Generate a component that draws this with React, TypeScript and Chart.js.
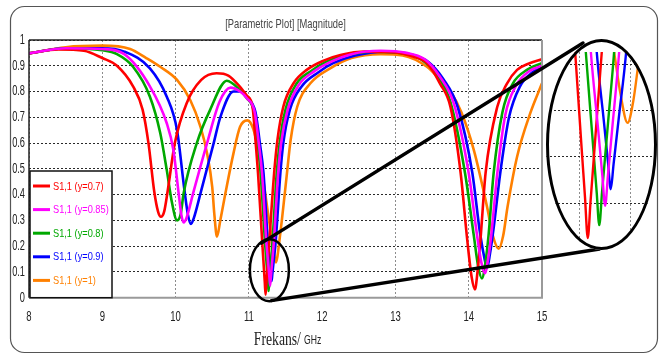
import React, { useEffect, useRef } from "react";
import { Chart, registerables } from "chart.js";
Chart.register(...registerables);

// ---------- data (frequency in GHz, |S11| magnitude) ----------
const X_MIN = 8;
const X_MAX = 15;
const Y_MIN = 0;
const Y_MAX = 1;
const TITLE = "[Parametric Plot] [Magnitude]";
const X_TITLE_MAIN = "Frekans/";
const X_TITLE_UNIT = "GHz";

const LABELS = ["S1,1 (y=0.7)", "S1,1 (y=0.85)", "S1,1 (y=0.8)", "S1,1 (y=0.9)", "S1,1 (y=1)"];
const COLORS = ["#ff0000", "#ff00ff", "#00a800", "#0000ff", "#ff8000"];

const F_RED = [8.0, 8.4, 8.75, 9.0, 9.2, 9.42, 9.55, 9.63, 9.71, 9.76, 9.80, 9.845, 9.89, 9.99, 10.15, 10.35, 10.56, 10.72, 10.88, 10.97, 11.05, 11.09, 11.125, 11.183, 11.206, 11.218, 11.228, 11.238, 11.256, 11.278, 11.345, 11.39, 11.47, 11.61, 11.79, 12.02, 12.25, 12.6, 13.0, 13.25, 13.43, 13.61, 13.75, 13.89, 13.98, 14.04, 14.085, 14.12, 14.16, 14.23, 14.39, 14.52, 14.66, 14.83, 15.0];
const S_RED = [0.948, 0.963, 0.958, 0.93, 0.90, 0.82, 0.73, 0.60, 0.41, 0.335, 0.314, 0.335, 0.41, 0.60, 0.754, 0.845, 0.871, 0.862, 0.818, 0.785, 0.741, 0.612, 0.483, 0.214, 0.11, 0.057, 0.012, 0.052, 0.125, 0.214, 0.483, 0.612, 0.741, 0.832, 0.884, 0.92, 0.942, 0.955, 0.952, 0.935, 0.91, 0.83, 0.741, 0.484, 0.224, 0.08, 0.032, 0.10, 0.224, 0.483, 0.741, 0.83, 0.884, 0.91, 0.925];

const F_MAGENTA = [8.0, 8.5, 9.0, 9.3, 9.65, 9.88, 9.97, 10.04, 10.08, 10.11, 10.15, 10.24, 10.43, 10.6, 10.75, 10.88, 10.97, 11.08, 11.135, 11.18, 11.239, 11.265, 11.28, 11.29, 11.30, 11.315, 11.34, 11.40, 11.44, 11.53, 11.68, 11.9, 12.1, 12.4, 12.8, 13.15, 13.4, 13.6, 13.8, 14.0, 14.11, 14.17, 14.22, 14.27, 14.31, 14.39, 14.5, 14.65, 14.83, 15.0];
const S_MAGENTA = [0.948, 0.968, 0.965, 0.945, 0.82, 0.677, 0.573, 0.41, 0.32, 0.292, 0.31, 0.406, 0.60, 0.76, 0.815, 0.80, 0.775, 0.72, 0.60, 0.483, 0.214, 0.13, 0.08, 0.047, 0.08, 0.13, 0.214, 0.483, 0.60, 0.73, 0.825, 0.88, 0.913, 0.945, 0.958, 0.95, 0.925, 0.86, 0.75, 0.483, 0.25, 0.14, 0.095, 0.16, 0.25, 0.483, 0.71, 0.825, 0.88, 0.90];

const F_GREEN = [8.0, 8.5, 9.0, 9.2, 9.42, 9.65, 9.79, 9.88, 9.95, 10.02, 10.07, 10.11, 10.29, 10.47, 10.7, 10.88, 10.97, 11.07, 11.12, 11.16, 11.221, 11.245, 11.26, 11.269, 11.279, 11.30, 11.322, 11.38, 11.42, 11.5, 11.65, 11.85, 12.05, 12.3, 12.7, 13.1, 13.35, 13.55, 13.75, 13.95, 14.07, 14.13, 14.18, 14.23, 14.27, 14.34, 14.46, 14.6, 14.8, 15.0];
const S_GREEN = [0.948, 0.968, 0.96, 0.945, 0.896, 0.78, 0.64, 0.495, 0.37, 0.30, 0.325, 0.405, 0.60, 0.728, 0.842, 0.805, 0.775, 0.72, 0.60, 0.483, 0.214, 0.12, 0.061, 0.026, 0.062, 0.136, 0.214, 0.483, 0.60, 0.73, 0.83, 0.88, 0.915, 0.94, 0.955, 0.948, 0.925, 0.87, 0.76, 0.483, 0.24, 0.12, 0.075, 0.14, 0.24, 0.483, 0.72, 0.83, 0.885, 0.91];

const F_BLUE = [8.0, 8.5, 9.0, 9.3, 9.65, 9.88, 10.02, 10.12, 10.17, 10.21, 10.25, 10.34, 10.52, 10.61, 10.79, 10.9, 10.98, 11.09, 11.15, 11.2, 11.26, 11.285, 11.30, 11.31, 11.32, 11.34, 11.365, 11.43, 11.47, 11.56, 11.72, 11.95, 12.15, 12.45, 12.85, 13.2, 13.45, 13.65, 13.85, 14.05, 14.15, 14.21, 14.25, 14.29, 14.34, 14.43, 14.55, 14.7, 14.87, 15.0];
const S_BLUE = [0.948, 0.968, 0.968, 0.955, 0.89, 0.78, 0.65, 0.42, 0.32, 0.286, 0.31, 0.405, 0.60, 0.70, 0.80, 0.80, 0.775, 0.72, 0.60, 0.483, 0.214, 0.14, 0.095, 0.065, 0.092, 0.146, 0.214, 0.483, 0.60, 0.73, 0.82, 0.875, 0.91, 0.94, 0.955, 0.945, 0.915, 0.85, 0.74, 0.483, 0.26, 0.16, 0.115, 0.17, 0.27, 0.483, 0.70, 0.82, 0.875, 0.895];

const F_ORANGE = [8.0, 8.5, 9.0, 9.38, 9.6, 9.79, 10.02, 10.2, 10.34, 10.43, 10.5, 10.53, 10.565, 10.61, 10.68, 10.79, 10.88, 10.98, 11.06, 11.13, 11.2, 11.27, 11.322, 11.345, 11.37, 11.39, 11.408, 11.45, 11.52, 11.57, 11.66, 11.84, 12.11, 12.4, 12.8, 13.1, 13.43, 13.61, 13.75, 13.9, 14.07, 14.25, 14.33, 14.41, 14.47, 14.53, 14.66, 14.84, 15.0];
const S_ORANGE = [0.948, 0.972, 0.978, 0.965, 0.93, 0.896, 0.845, 0.767, 0.663, 0.56, 0.43, 0.32, 0.237, 0.30, 0.405, 0.56, 0.663, 0.688, 0.655, 0.57, 0.45, 0.31, 0.214, 0.168, 0.137, 0.16, 0.2, 0.3, 0.483, 0.612, 0.741, 0.832, 0.89, 0.93, 0.945, 0.94, 0.896, 0.845, 0.80, 0.72, 0.573, 0.353, 0.24, 0.19, 0.24, 0.353, 0.547, 0.716, 0.832];

// zoom inset ranges
const INSET_X = [11.079, 11.475];
const INSET_Y = [-0.001, 0.214];
const INSET_X_GRID = [11.2, 11.38];
const INSET_Y_GRID = [0.05, 0.1, 0.15, 0.2];
const ZOOM_CENTER = [11.28, 0.107];

const SERIES_F = [F_RED, F_MAGENTA, F_GREEN, F_BLUE, F_ORANGE];
const SERIES_S = [S_RED, S_MAGENTA, S_GREEN, S_BLUE, S_ORANGE];
const DRAW_ORDER = [1, 0, 2, 3, 4];

// inset ellipse box (page pixels)
const INSET_BOX = { left: 546, top: 39, w: 111, h: 211, canvasTop: 13 };

function makeDatasets(width: number) {
  return LABELS.map((label, i) => ({
    label,
    data: SERIES_F[i].map((f, k) => ({ x: f, y: SERIES_S[i][k] })),
    borderColor: COLORS[i],
    backgroundColor: COLORS[i],
    borderWidth: width,
    pointRadius: 0,
    fill: false,
    cubicInterpolationMode: "monotone" as const,
    capBezierPoints: false,
    order: DRAW_ORDER[i],
  }));
}

function sText(ctx: CanvasRenderingContext2D, text: string, x: number, y: number, font: string, color: string, align: CanvasTextAlign, base: CanvasTextBaseline, sx: number) {
  ctx.save();
  ctx.translate(x, y);
  ctx.scale(sx, 1);
  ctx.font = font;
  ctx.fillStyle = color;
  ctx.textAlign = align;
  ctx.textBaseline = base;
  ctx.fillText(text, 0, 0);
  ctx.restore();
}

function fmt(v: number) {
  return String(Number(v.toFixed(2)));
}

const decor = {
  id: "decor",
  beforeDraw(chart: any) {
    const ctx = chart.ctx as CanvasRenderingContext2D;
    ctx.save();
    ctx.fillStyle = "#ffffff";
    ctx.fillRect(0, 0, chart.width, chart.height);
    const x = 10.5, y = 6.5, w = 647, h = 346, r = 14;
    ctx.beginPath();
    ctx.moveTo(x + r, y);
    ctx.lineTo(x + w - r, y);
    ctx.arcTo(x + w, y, x + w, y + r, r);
    ctx.lineTo(x + w, y + h - r);
    ctx.arcTo(x + w, y + h, x + w - r, y + h, r);
    ctx.lineTo(x + r, y + h);
    ctx.arcTo(x, y + h, x, y + h - r, r);
    ctx.lineTo(x, y + r);
    ctx.arcTo(x, y, x + r, y, r);
    ctx.closePath();
    ctx.strokeStyle = "#555";
    ctx.lineWidth = 1.2;
    ctx.stroke();
    ctx.restore();
  },
  afterDatasetsDraw(chart: any) {
    const ctx = chart.ctx as CanvasRenderingContext2D;
    const a = chart.chartArea;
    const xs = chart.scales.x;
    const ys = chart.scales.y;
    ctx.save();
    // plot frame: top dark, right / bottom grey, left dark
    ctx.strokeStyle = "#222";
    ctx.lineWidth = 1.5;
    ctx.beginPath();
    ctx.moveTo(a.left, a.top);
    ctx.lineTo(a.right, a.top);
    ctx.moveTo(a.left, a.top);
    ctx.lineTo(a.left, a.bottom);
    ctx.stroke();
    ctx.strokeStyle = "#9a9a9a";
    ctx.lineWidth = 2;
    ctx.beginPath();
    ctx.moveTo(a.right, a.top);
    ctx.lineTo(a.right, a.bottom);
    ctx.moveTo(a.left, a.bottom);
    ctx.lineTo(a.right + 1, a.bottom);
    ctx.stroke();

    // legend box
    const lx = a.left + 1, ly = 171, lw = 82, lh = a.bottom - 171;
    ctx.fillStyle = "#fff";
    ctx.fillRect(lx, ly, lw, lh);
    ctx.strokeStyle = "#111";
    ctx.lineWidth = 1.5;
    ctx.strokeRect(lx, ly, lw, lh);
    LABELS.forEach((lab, i) => {
      const cy = 186 + i * 23.6;
      ctx.strokeStyle = COLORS[i];
      ctx.lineWidth = 3;
      ctx.beginPath();
      ctx.moveTo(lx + 3, cy);
      ctx.lineTo(lx + 20, cy);
      ctx.stroke();
      sText(ctx, lab, lx + 23, cy + 0.5, "11px 'Liberation Sans', Arial, sans-serif", COLORS[i], "left", "middle", 0.84);
    });

    // zoom marker ellipse + callout lines
    const cx = xs.getPixelForValue(ZOOM_CENTER[0]);
    const cy = ys.getPixelForValue(ZOOM_CENTER[1]);
    ctx.strokeStyle = "#000";
    ctx.lineWidth = 2.5;
    ctx.beginPath();
    ctx.ellipse(cx, cy, 19.5, 31, 0, 0, Math.PI * 2);
    ctx.stroke();
    const ecx = INSET_BOX.left + INSET_BOX.w / 2;
    const ecy = INSET_BOX.top + INSET_BOX.h / 2;
    ctx.lineWidth = 3.5;
    ctx.lineCap = "round";
    ctx.beginPath();
    ctx.moveTo(cx - 8, cy - 27);
    ctx.lineTo(ecx - 18.5, ecy - 101.5);
    ctx.stroke();
    ctx.beginPath();
    ctx.moveTo(cx + 2, cy + 30.5);
    ctx.lineTo(ecx - 2, ecy + 104.5);
    ctx.stroke();
    ctx.restore();
  },
  afterDraw(chart: any) {
    const ctx = chart.ctx as CanvasRenderingContext2D;
    const a = chart.chartArea;
    const xs = chart.scales.x;
    const ys = chart.scales.y;
    const tickFont = "14px 'Liberation Sans', Arial, sans-serif";
    ys.ticks.forEach((t: any) => {
      sText(ctx, fmt(t.value), a.left - 4, ys.getPixelForValue(t.value), tickFont, "#222", "right", "middle", 0.66);
    });
    xs.ticks.forEach((t: any) => {
      sText(ctx, fmt(t.value), xs.getPixelForValue(t.value), a.bottom + 19, tickFont, "#222", "center", "middle", 0.68);
    });
    // title
    sText(ctx, TITLE, (a.left + a.right) / 2, 24, "13px 'Liberation Sans', Arial, sans-serif", "#444", "center", "middle", 0.72);
    // x axis title
    ctx.save();
    const s = 0.72;
    ctx.font = "19px 'Liberation Serif', 'Times New Roman', serif";
    const w1 = ctx.measureText(X_TITLE_MAIN).width * s;
    ctx.font = "12px 'Liberation Sans', Arial, sans-serif";
    const w2 = ctx.measureText(X_TITLE_UNIT).width * s;
    ctx.restore();
    const total = w1 + 3 + w2;
    const start = (a.left + a.right) / 2 + 2 - total / 2;
    sText(ctx, X_TITLE_MAIN, start, 345, "19px 'Liberation Serif', 'Times New Roman', serif", "#222", "left", "alphabetic", s);
    sText(ctx, X_TITLE_UNIT, start + w1 + 3, 344, "12px 'Liberation Sans', Arial, sans-serif", "#222", "left", "alphabetic", s);
  },
};

export default function App() {
  const mainRef = useRef<HTMLCanvasElement>(null);
  const insetRef = useRef<HTMLCanvasElement>(null);

  useEffect(() => {
    const main = new Chart(mainRef.current as HTMLCanvasElement, {
      type: "line",
      data: { datasets: makeDatasets(2.6) as any },
      options: {
        responsive: false,
        animation: false,
        devicePixelRatio: 1,
        layout: { padding: { left: 29, top: 40, right: 118, bottom: 58.3 } },
        plugins: { legend: { display: false }, tooltip: { enabled: false }, title: { display: false } },
        scales: {
          x: {
            type: "linear",
            min: X_MIN,
            max: X_MAX,
            ticks: { display: false, stepSize: 1 },
            grid: { color: "#8c8c8c", lineWidth: 1, drawTicks: false },
            border: { display: false, dash: [2, 2] } as any,
          },
          y: {
            type: "linear",
            min: Y_MIN,
            max: Y_MAX,
            ticks: { display: false, stepSize: 0.1 },
            grid: { color: "#2a2a2a", lineWidth: 1, drawTicks: false },
            border: { display: false, dash: [2, 2] } as any,
          },
        },
      },
      plugins: [decor as any],
    });

    const inset = new Chart(insetRef.current as HTMLCanvasElement, {
      type: "line",
      data: { datasets: makeDatasets(2.4) as any },
      options: {
        responsive: false,
        animation: false,
        devicePixelRatio: 1,
        layout: { padding: 0 },
        plugins: { legend: { display: false }, tooltip: { enabled: false } },
        scales: {
          x: {
            type: "linear",
            min: INSET_X[0],
            max: INSET_X[1],
            ticks: { display: false },
            afterBuildTicks: (sc: any) => { sc.ticks = INSET_X_GRID.map((v) => ({ value: v })); },
            grid: { color: "#8c8c8c", lineWidth: 1, drawTicks: false },
            border: { display: false, dash: [2, 2] } as any,
          },
          y: {
            type: "linear",
            min: INSET_Y[0],
            max: INSET_Y[1],
            ticks: { display: false },
            afterBuildTicks: (sc: any) => { sc.ticks = INSET_Y_GRID.map((v) => ({ value: v })); },
            grid: { color: "#2a2a2a", lineWidth: 1, drawTicks: false },
            border: { display: false, dash: [2, 2] } as any,
          },
        },
      },
    });
    return () => {
      main.destroy();
      inset.destroy();
    };
  }, []);

  return (
    <div style={{ position: "absolute", left: 0, top: 0, width: 660, height: 356, background: "#fff", overflow: "hidden" }}>
      <canvas ref={mainRef} width={660} height={356} style={{ position: "absolute", left: 0, top: 0, width: 660, height: 356 }} />
      <div style={{ position: "absolute", left: INSET_BOX.left, top: INSET_BOX.top, width: INSET_BOX.w, height: INSET_BOX.h, borderRadius: "50%", overflow: "hidden", background: "#fff" }}>
        <canvas ref={insetRef} width={INSET_BOX.w} height={INSET_BOX.h - INSET_BOX.canvasTop} style={{ position: "absolute", left: 0, top: INSET_BOX.canvasTop, width: INSET_BOX.w, height: INSET_BOX.h - INSET_BOX.canvasTop }} />
      </div>
      <div style={{ position: "absolute", left: INSET_BOX.left, top: INSET_BOX.top, width: INSET_BOX.w, height: INSET_BOX.h, borderRadius: "50%", border: "3px solid #000", boxSizing: "border-box", pointerEvents: "none" }} />
    </div>
  );
}
